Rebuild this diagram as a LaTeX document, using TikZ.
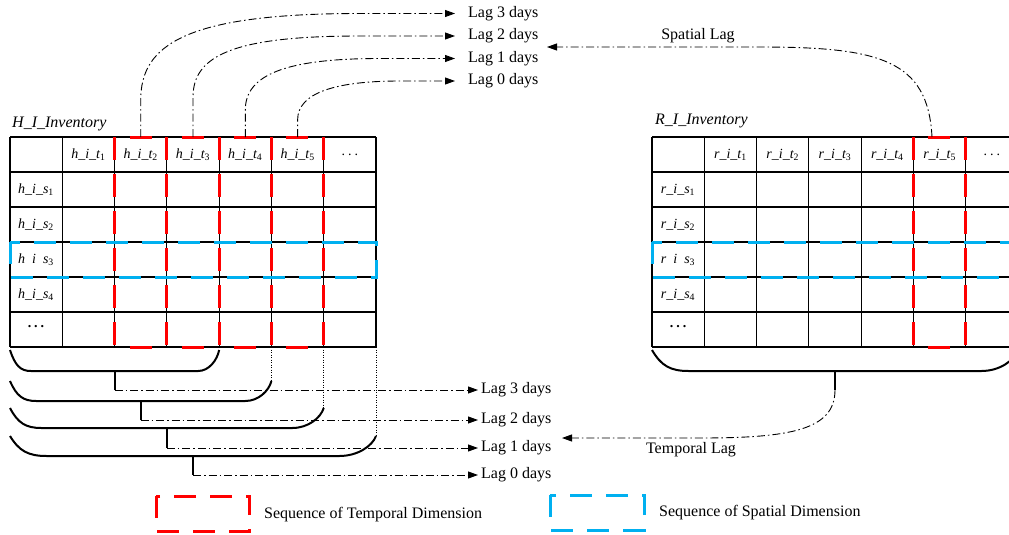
\documentclass[tikz,border=0pt]{standalone}
\usepackage{fontspec}
\setmainfont{Liberation Serif}
\usetikzlibrary{arrows.meta}
\definecolor{seqred}{RGB}{255,0,0}
\definecolor{seqblue}{RGB}{0,176,240}
\tikzset{
  gridline/.style={line width=1.2pt, black},
  redseq/.style={seqred, line width=3pt, dash pattern=on 22pt off 14pt},
  redvert/.style={seqred, line width=3pt, dash pattern=on 23pt off 14pt},
  redhoriz/.style={seqred, line width=3pt, dash pattern=on 0pt off 15pt on 22pt off 40pt},
  blueseq/.style={seqblue, line width=3pt, dash pattern=on 22pt off 14pt},
  lagline/.style={line width=0.9pt, dash pattern=on 8pt off 3pt on 1.5pt off 3pt, -{Triangle[length=10pt,width=7pt]}},
  bracketline/.style={line width=2pt},
  dotline/.style={line width=0.8pt, dash pattern=on 1pt off 1.5pt},
  lbl/.style={font=\fontsize{16}{18}\selectfont, inner sep=0pt},
  cell/.style={font=\fontsize{14}{16}\selectfont\itshape, inner sep=0pt},
  title/.style={font=\fontsize{16}{18}\selectfont\itshape, inner sep=0pt, anchor=west},
}
\newcommand{\mybracket}[4]{% xl, xr, ytop, ybot
  \pgfmathsetmacro{\cw}{0.1*(#2-#1)}
  \draw[bracketline] (#1,#3) .. controls ({#1+0.25*\cw},{#3+0.75*(#4-#3)}) and ({#1+0.5*\cw},#4) .. ({#1+\cw},#4)
     -- ({#2-\cw},#4) .. controls ({#2-0.5*\cw},#4) and ({#2-0.1*\cw},{#3+0.5*(#4-#3)}) .. (#2,#3);
}
\newcommand{\redcolumn}[1]{% left x of a column
  \draw[redvert] (#1,137) -- (#1,347);
  \draw[redvert] ({#1+52.29},137) -- ({#1+52.29},347);
  \draw[redhoriz] (#1,137) -- ({#1+52.29},137);
  \draw[redhoriz] (#1,347) -- ({#1+52.29},347);
}
\begin{document}
\begin{tikzpicture}[x=1pt,y=-1pt]
\useasboundingbox (0,0) rectangle (1009,535);
\clip (0,0) rectangle (1009,535);

% ---------- left table ----------
\def\lx{10}\def\cwd{52.29}
\foreach \i in {0,...,7} \draw[gridline] ({\lx+\cwd*\i},137) -- ({\lx+\cwd*\i},347);
\foreach \j in {0,...,6} \draw[gridline] (\lx,{137+35*\j}) -- ({\lx+7*\cwd},{137+35*\j});
\node[title] (htitle) at (12,124) {H\_I\_Inventory};
\foreach \k in {1,...,5}
  \node[cell] (ht\k) at ({\lx+\cwd*(\k+0.5)},154.5) {h\_i\_t\textsubscript{\upshape\k}};
\node[cell] (htd) at ({\lx+\cwd*6.5},154.5) {\upshape.\hspace{3pt}.\hspace{3pt}.};
\node[cell] (hs1) at (36,189.5) {h\_i\_s\textsubscript{\upshape 1}};
\node[cell] (hs2) at (36,224.5) {h\_i\_s\textsubscript{\upshape 2}};
\node[cell] (hs3) at (36,259.5) {h\phantom{\_}i\phantom{\_}s\textsubscript{\upshape 3}};
\node[cell] (hs4) at (36,294.5) {h\_i\_s\textsubscript{\upshape 4}};
\node[cell] (hsd) at (36,327) {\upshape\bfseries.\hspace{3pt}.\hspace{3pt}.};

% red column sequences
\foreach \k in {2,...,5} { \redcolumn{\lx+\cwd*\k} }
% blue row sequence
\draw[blueseq] (\lx,242) rectangle ({\lx+7*\cwd},277);

% ---------- right table ----------
\def\rx{652}
\foreach \i in {0,...,7} \draw[gridline] ({\rx+\cwd*\i},137) -- ({\rx+\cwd*\i},347);
\foreach \j in {0,...,6} \draw[gridline] (\rx,{137+35*\j}) -- ({\rx+7*\cwd},{137+35*\j});
\node[title] (rtitle) at (655,121) {R\_I\_Inventory};
\foreach \k in {1,...,5}
  \node[cell] (rt\k) at ({\rx+\cwd*(\k+0.5)},154.5) {r\_i\_t\textsubscript{\upshape\k}};
\node[cell] (rtd) at ({\rx+\cwd*6.5},154.5) {\upshape.\hspace{3pt}.\hspace{3pt}.};
\node[cell] (rs1) at ({\rx+26},189.5) {r\_i\_s\textsubscript{\upshape 1}};
\node[cell] (rs2) at ({\rx+26},224.5) {r\_i\_s\textsubscript{\upshape 2}};
\node[cell] (rs3) at ({\rx+26},259.5) {r\phantom{\_}i\phantom{\_}s\textsubscript{\upshape 3}};
\node[cell] (rs4) at ({\rx+26},294.5) {r\_i\_s\textsubscript{\upshape 4}};
\node[cell] (rsd) at ({\rx+26},327) {\upshape\bfseries.\hspace{3pt}.\hspace{3pt}.};
\redcolumn{\rx+\cwd*5}
\draw[blueseq] (\rx,242) rectangle ({\rx+7*\cwd},277);

% ---------- top lag labels and arrows ----------
\node[lbl,anchor=west] (tl3) at (468,13.5) {Lag 3 days};
\node[lbl,anchor=west] (tl2) at (468,36) {Lag 2 days};
\node[lbl,anchor=west] (tl1) at (468,58.5) {Lag 1 days};
\node[lbl,anchor=west] (tl0) at (468,81) {Lag 0 days};
\coordinate (tp2) at ({\lx+\cwd*2.5},137);
\coordinate (tp3) at ({\lx+\cwd*3.5},137);
\coordinate (tp4) at ({\lx+\cwd*4.5},137);
\coordinate (tp5) at ({\lx+\cwd*5.5},137);
\draw[lagline] (tp2) -- ++(0,-37) .. controls ++(0,-55) and (185,13.5) .. (360,13.5) -- ([xshift=-13pt]tl3.west);
\draw[lagline] (tp3) -- ++(0,-40) .. controls ++(0,-42) and (235,36) .. (360,36) -- ([xshift=-13pt]tl2.west);
\draw[lagline] (tp4) -- ++(0,-27) .. controls ++(0,-35) and (285,58.5) .. (380,58.5) -- ([xshift=-13pt]tl1.west);
\draw[lagline] (tp5) -- ++(0,-17) .. controls ++(0,-27) and (335,81) .. (400,81) -- ([xshift=-13pt]tl0.west);

% spatial lag
\coordinate (sp) at (932,137);
\node[lbl] (spl) at (698,36) {Spatial Lag};
\coordinate (spend) at (547,47);
\draw[lagline] (sp) .. controls (928,60) and (880,47) .. (760,47) -- (spend);

% ---------- bottom brackets ----------
\mybracket{10}{219.16}{350}{371}
\mybracket{10}{271.45}{381}{401}
\mybracket{10}{323.74}{408}{428}
\mybracket{10}{376}{436}{456}
\draw[dotline] ({\lx+\cwd*5},347) -- ({\lx+\cwd*5},381);
\draw[dotline] ({\lx+\cwd*6},347) -- ({\lx+\cwd*6},408);
\draw[dotline] ({\lx+\cwd*7},347) -- ({\lx+\cwd*7},436);

\node[lbl,anchor=west] (bl3) at (481,390) {Lag 3 days};
\node[lbl,anchor=west] (bl2) at (481,420) {Lag 2 days};
\node[lbl,anchor=west] (bl1) at (481,448) {Lag 1 days};
\node[lbl,anchor=west] (bl0) at (481,475) {Lag 0 days};

\coordinate (s3) at (114.6,371);  \coordinate (e3) at (114.6,390);
\coordinate (s2) at (140.7,401);  \coordinate (e2) at (140.7,420);
\coordinate (s1) at (166.9,428);  \coordinate (e1) at (166.9,448);
\coordinate (s0) at (193,456);    \coordinate (e0) at (193,475);
\draw[bracketline] (s3) -- (e3);
\draw[bracketline] (s2) -- (e2);
\draw[bracketline] (s1) -- (e1);
\draw[bracketline] (s0) -- (e0);
\draw[lagline] (e3) -- ([xshift=-3pt]bl3.west);
\draw[lagline] (e2) -- ([xshift=-3pt]bl2.west);
\draw[lagline] (e1) -- ([xshift=-3pt]bl1.west);
\draw[lagline] (e0) -- ([xshift=-3pt]bl0.west);

% right bracket and temporal lag
\mybracket{652}{1018}{350}{371}
\coordinate (rs) at (835,371);
\coordinate (re) at (835,390);
\draw[bracketline] (rs) -- (re);
\coordinate (tend) at (562,438);
\draw[lagline] (re) .. controls (835,430) and (790,438) .. (700,438) -- (tend);
\node[lbl] (tpl) at (691,450) {Temporal Lag};

% ---------- legend ----------
\draw[redseq] (156,496) rectangle (249,531);
\node[lbl,anchor=west] (legr) at (264,515) {Sequence of Temporal Dimension};
\draw[blueseq] (550,495) rectangle (644,530);
\node[lbl,anchor=west] (legb) at (659,513) {Sequence of Spatial Dimension};
\end{tikzpicture}
\end{document}
